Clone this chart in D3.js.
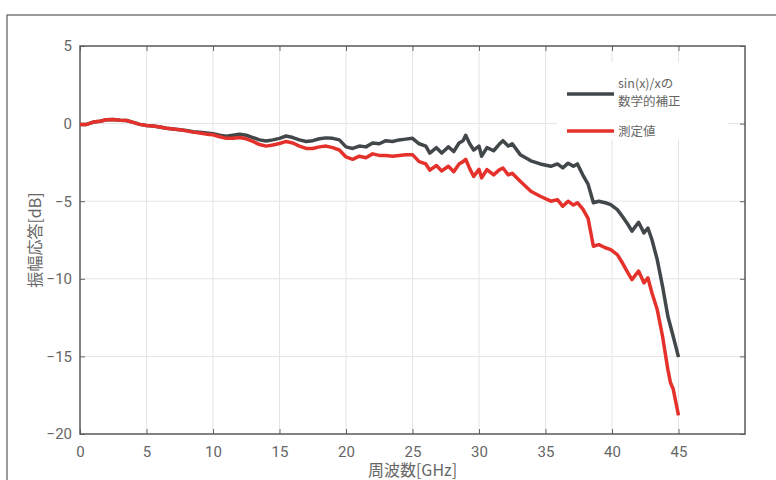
<!DOCTYPE html>
<html>
<head>
<meta charset="utf-8">
<script src="https://cdn.jsdelivr.net/npm/d3@7"></script>
<style>
  body { margin: 0; background: #fff; }
  svg text { fill: #666; }
</style>
</head>
<body>
<svg id="chart" width="776" height="480"></svg>
<script>
const freq = [0, 0.5, 1, 1.5, 2, 2.5, 3, 3.5, 4, 4.5, 5, 5.5, 6, 6.5, 7, 7.5, 8, 8.5, 9, 9.5,
  10, 10.5, 11, 11.5, 12, 12.5, 13, 13.5, 14, 14.5, 15, 15.5, 16, 16.5, 17, 17.5, 18, 18.5, 19, 19.5,
  20, 20.5, 21, 21.5, 22, 22.5, 23, 23.5, 24, 24.5, 25, 25.5, 26, 26.3, 26.8, 27.2, 27.7, 28.1, 28.5, 28.8,
  29, 29.3, 29.6, 30, 30.2, 30.6, 31.1, 31.5, 31.8, 32.2, 32.5, 33.1, 33.9, 34.6, 35.4, 35.9, 36.3, 36.7,
  37.1, 37.4, 37.8, 38.2, 38.6, 39, 39.5, 39.9, 40.4, 40.8, 41.2, 41.5, 42, 42.4, 42.7, 43, 43.4, 43.8,
  44.2, 44.4, 44.6, 45];

const corrected = [-0.05, -0.05, 0.1, 0.15, 0.25, 0.27, 0.22, 0.2, 0.08, -0.05, -0.12, -0.15, -0.22, -0.3, -0.35, -0.4, -0.45, -0.52, -0.55, -0.6,
  -0.65, -0.75, -0.82, -0.75, -0.68, -0.75, -0.9, -1.05, -1.12, -1.05, -0.95, -0.8, -0.9, -1.05, -1.15, -1.1, -0.98, -0.92, -0.95, -1.05,
  -1.5, -1.6, -1.45, -1.5, -1.25, -1.3, -1.1, -1.15, -1.05, -1.0, -0.95, -1.3, -1.45, -1.9, -1.55, -1.9, -1.5, -1.8, -1.25, -1.1,
  -0.75, -1.3, -1.7, -1.45, -2.1, -1.55, -1.75, -1.35, -1.1, -1.45, -1.3, -2.0, -2.4, -2.6, -2.75, -2.6, -2.85, -2.55,
  -2.75, -2.6, -3.3, -3.9, -5.1, -5.0, -5.1, -5.22, -5.54, -6.0, -6.5, -6.93, -6.36, -7.04, -6.73, -7.47, -8.76, -10.48,
  -12.41, -13.06, -13.7, -15.05];

const measured = [-0.05, -0.05, 0.1, 0.15, 0.25, 0.27, 0.22, 0.2, 0.08, -0.05, -0.12, -0.15, -0.22, -0.3, -0.35, -0.4, -0.47, -0.55, -0.6, -0.68,
  -0.72, -0.85, -0.95, -0.95, -0.9, -0.98, -1.15, -1.35, -1.45, -1.38, -1.28, -1.15, -1.25, -1.45, -1.6, -1.6, -1.5, -1.45, -1.55, -1.7,
  -2.15, -2.3, -2.1, -2.2, -1.95, -2.05, -2.05, -2.1, -2.05, -2.0, -2.0, -2.45, -2.6, -3.0, -2.7, -3.05, -2.75, -3.1, -2.6, -2.45,
  -2.3, -2.9, -3.4, -2.95, -3.5, -2.96, -3.3, -3.0, -2.86, -3.3, -3.2, -3.72, -4.36, -4.68, -5.0, -4.9, -5.33, -5.0,
  -5.25, -5.1, -5.5, -6.1, -7.9, -7.8, -8.0, -8.12, -8.44, -9.0, -9.62, -10.05, -9.5, -10.26, -9.94, -10.9, -11.98, -13.7,
  -15.85, -16.7, -17.1, -18.8];

const xTicks = [0, 5, 10, 15, 20, 25, 30, 35, 40, 45];
const yTicks = [5, 0, -5, -10, -15, -20];

const series = [
  { name: ["sin(x)/xの", "数学的補正"], values: corrected, color: "#42474a" },
  { name: ["測定値"], values: measured, color: "#e5312b" }
];

const svg = d3.select("#chart"),
  margin = { top: 46, right: 31, bottom: 46, left: 80 },
  width = +svg.attr("width") - margin.left - margin.right,
  height = +svg.attr("height") - margin.top - margin.bottom;

const numFont = '"Roboto", sans-serif';
const cjkFont = '"Noto Sans CJK JP", "Noto Sans", sans-serif';

// outer frame
svg.append("rect")
  .attr("x", 7).attr("y", 15)
  .attr("width", 820).attr("height", 520)
  .attr("fill", "none")
  .attr("stroke", "#666")
  .attr("stroke-width", 1.3);

const chart = svg.append("g")
  .attr("transform", `translate(${margin.left},${margin.top})`);

const x = d3.scaleLinear().domain([0, 50]).range([0, width]);
const y = d3.scaleLinear().domain([-20, 5]).range([height, 0]);

// grid
chart.append("g")
  .selectAll("line")
  .data(xTicks.slice(1))
  .join("line")
  .attr("x1", d => x(d)).attr("x2", d => x(d))
  .attr("y1", 0).attr("y2", height)
  .attr("stroke", "#e4e4e4").attr("stroke-width", 1);

chart.append("g")
  .selectAll("line")
  .data(yTicks.slice(1, -1))
  .join("line")
  .attr("x1", 0).attr("x2", width)
  .attr("y1", d => y(d)).attr("y2", d => y(d))
  .attr("stroke", "#e4e4e4").attr("stroke-width", 1);

// axes with inward ticks
const xAxisB = chart.append("g")
  .attr("transform", `translate(0,${height})`)
  .call(d3.axisBottom(x).tickValues(xTicks).tickSize(-5).tickPadding(12));
const xAxisT = chart.append("g")
  .call(d3.axisTop(x).tickValues(xTicks).tickSize(-5).tickFormat(""));
const yAxisL = chart.append("g")
  .call(d3.axisLeft(y).tickValues(yTicks).tickSize(-5).tickPadding(8));
const yAxisR = chart.append("g")
  .attr("transform", `translate(${width},0)`)
  .call(d3.axisRight(y).tickValues(yTicks).tickSize(-5).tickFormat(""));

[xAxisB, xAxisT, yAxisL, yAxisR].forEach(g => {
  g.select(".domain").remove();
  g.selectAll(".tick line").attr("stroke", "#666").attr("stroke-width", 1);
  g.selectAll("text")
    .attr("font-family", numFont)
    .attr("font-size", 15)
    .attr("fill", "#666");
});

chart.append("rect")
  .attr("width", width).attr("height", height)
  .attr("fill", "none")
  .attr("stroke", "#5a5a5a")
  .attr("stroke-width", 1.5);

// legend background
const legend = chart.append("g").attr("transform", `translate(${557 - margin.left},${62 - margin.top})`);
legend.append("rect")
  .attr("width", 171).attr("height", 78)
  .attr("fill", "#fff");

// lines
const line = d3.line()
  .x((d, i) => x(freq[i]))
  .y(d => y(d))
  .curve(d3.curveLinear);

series.forEach(s => {
  chart.append("path")
    .datum(s.values)
    .attr("fill", "none")
    .attr("stroke", s.color)
    .attr("stroke-width", 3.5)
    .attr("stroke-linejoin", "round")
    .attr("d", line);
});

// legend entries
const legendRows = [32, 69];
series.forEach((s, i) => {
  const row = legend.append("g").attr("transform", `translate(0,${legendRows[i]})`);
  row.append("line")
    .attr("x1", 10).attr("x2", 57)
    .attr("stroke", s.color)
    .attr("stroke-width", 3.5);
  if (s.name.length > 1) {
    s.name.forEach((n, k) => {
      row.append("text")
        .attr("x", 61).attr("y", k === 0 ? -6 : 12)
        .attr("font-family", cjkFont)
        .attr("font-size", 12.5)
        .attr("fill", "#444")
        .text(n);
    });
  } else {
    row.append("text")
      .attr("x", 61).attr("y", 5)
      .attr("font-family", cjkFont)
      .attr("font-size", 12.5)
      .attr("fill", "#444")
      .text(s.name[0]);
  }
});

// axis titles
svg.append("text")
  .attr("x", margin.left + x(25))
  .attr("y", 476)
  .attr("text-anchor", "middle")
  .attr("font-family", cjkFont)
  .attr("font-size", 16)
  .attr("fill", "#555")
  .text("周波数[GHz]");

svg.append("text")
  .attr("transform", `translate(41,${margin.top + y(-7.5)}) rotate(-90)`)
  .attr("text-anchor", "middle")
  .attr("font-family", cjkFont)
  .attr("font-size", 16)
  .attr("fill", "#555")
  .text("振幅応答[dB]");
</script>
</body>
</html>
